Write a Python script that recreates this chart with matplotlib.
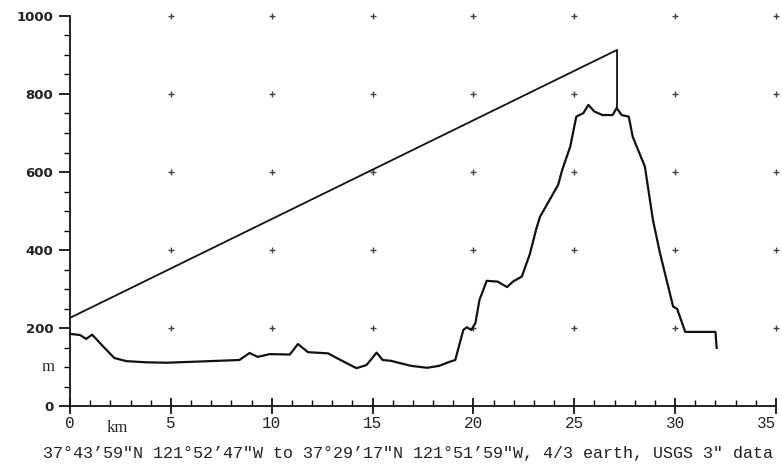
import numpy as np
import matplotlib
matplotlib.use('Agg')
import matplotlib.pyplot as plt
from matplotlib.ticker import MultipleLocator

# terrain profile (km, m)
dist_km = [0.0, 0.5, 0.8, 1.1, 1.6, 2.2, 2.8, 3.8, 4.8, 6.9, 8.4, 8.9, 9.3, 9.9, 10.9,
           11.3, 11.8, 12.8, 13.3, 14.2, 14.7, 15.2, 15.5, 15.9, 16.9, 17.7, 18.3, 18.8,
           19.1, 19.5, 19.67, 19.9, 20.1, 20.3, 20.66, 21.2, 21.67, 21.96, 22.4, 22.8,
           23.1, 23.3, 24.2, 24.4, 24.8, 25.1, 25.45, 25.7, 26.0, 26.4, 26.9, 27.1, 27.35,
           27.7, 27.9, 28.5, 28.9, 29.25, 29.9, 30.1, 30.5, 32.0, 32.06]
elev_m = [185, 182, 172, 183, 155, 123, 115, 112, 111, 115, 118, 136, 126, 133, 132,
          159, 138, 135, 121, 97, 105, 137, 118, 116, 103, 98, 103, 113,
          118, 195, 202, 195, 213, 272, 321, 319, 305, 319, 332, 390,
          451, 485, 567, 605, 665, 742, 751, 772, 755, 746, 746, 764, 746,
          742, 690, 614, 477, 392, 255, 249, 190, 190, 149]

# line of sight
los_km = [0.0, 27.12, 27.12]
los_m = [226, 913, 764]

grid_x = [5, 10, 15, 20, 25, 30, 35]
grid_y = [200, 400, 600, 800, 1000]

caption = ('37\u00b043\u201959\u2033N 121\u00b052\u201947\u2033W to '
           '37\u00b029\u201917\u2033N 121\u00b051\u201959\u2033W, 4/3 earth, USGS 3\u2033 data')

fig = plt.figure(figsize=(7.82, 4.69), dpi=100)
ax = fig.add_axes([0.0895, 0.1343, 0.9028, 0.8316])

gx, gy = np.meshgrid(grid_x, grid_y)
ax.plot(gx.ravel(), gy.ravel(), '+', color='#444444', markersize=5, mew=1.0, clip_on=False)

ax.plot(dist_km, elev_m, color='#111111', lw=1.6, clip_on=False)
ax.plot(los_km, los_m, color='#111111', lw=1.3, clip_on=False)

ax.set_xlim(0, 35)
ax.set_ylim(0, 1000)
for s in ['top', 'right']:
    ax.spines[s].set_visible(False)
for s in ['left', 'bottom']:
    ax.spines[s].set_linewidth(1.3)
    ax.spines[s].set_color('#111111')

ax.set_yticks([0, 200, 400, 600, 800, 1000])
ax.yaxis.set_minor_locator(MultipleLocator(50))
ax.set_xticks(range(0, 36, 5))
ax.xaxis.set_minor_locator(MultipleLocator(1))
ax.tick_params(axis='y', which='major', direction='out', length=8, width=1.2, pad=4)
ax.tick_params(axis='y', which='minor', direction='out', length=4, width=1.0)
ax.tick_params(axis='x', which='major', direction='inout', length=12, width=1.2, pad=1)
ax.tick_params(axis='x', which='minor', direction='in', length=4, width=1.0)

for lab in ax.get_yticklabels():
    lab.set_fontfamily('DejaVu Sans')
    lab.set_fontweight('bold')
    lab.set_fontsize(9.5)
    lab.set_color('#222222')
xlabs = ax.get_xticklabels()
for lab in xlabs:
    lab.set_fontfamily('Liberation Mono')
    lab.set_fontsize(11.5)
    lab.set_color('#222222')
xlabs[-1].set_horizontalalignment('right')

ax.text(-0.022, 100, 'm', transform=ax.get_yaxis_transform(), ha='right', va='center',
        fontsize=12, family='Liberation Serif', color='#222222')
ax.text(2.35, -0.035, 'km', transform=ax.get_xaxis_transform(), ha='center', va='top',
        fontsize=12, family='Liberation Serif', color='#222222')

fig.text(0.522, 0.032, caption, ha='center', va='center', fontsize=12.1,
         family=['Liberation Mono', 'DejaVu Sans Mono'], color='#222222')

fig.savefig('out.png', dpi=100)
